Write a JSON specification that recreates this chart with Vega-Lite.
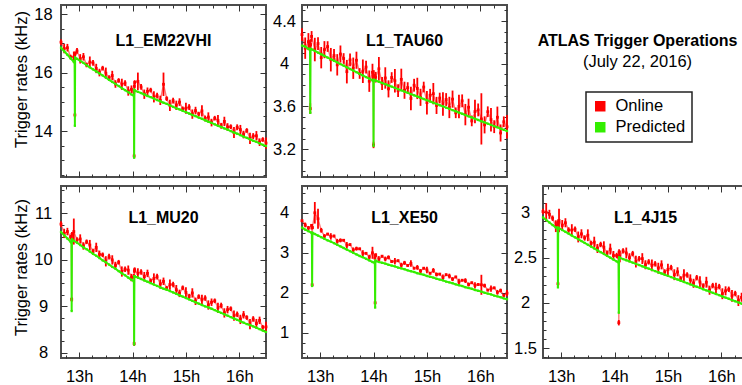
{
"$schema":"https://vega.github.io/schema/vega-lite/v6.json",
"padding":{"left":11,"top":3,"right":0,"bottom":0},
"background":"white",
"datasets":{"d":[
{"p":1,"t":12.66,"o":17.04,"e":0.1,"g":16.85},{"p":1,"t":12.72,"o":16.82,"e":0.16,"g":16.73},{"p":1,"t":12.78,"o":16.85,"e":0.13,"g":16.61},{"p":1,"t":12.84,"o":16.53,"e":0.08,"g":16.49},{"p":1,"t":12.9,"o":16.53,"e":0.19,"g":16.37},{"p":1,"t":12.915,"o":16.47,"e":0.08,"g":16.34},{"p":1,"t":12.92,"o":14.55,"e":0.08,"g":14.18},{"p":1,"t":12.925,"o":16.64,"e":0.08,"g":16.51},{"p":1,"t":12.96,"o":16.74,"e":0.1,"g":16.47},{"p":1,"t":13.02,"o":16.47,"e":0.16,"g":16.4},{"p":1,"t":13.08,"o":16.54,"e":0.13,"g":16.33},{"p":1,"t":13.14,"o":16.26,"e":0.08,"g":16.25},{"p":1,"t":13.2,"o":16.36,"e":0.19,"g":16.18},{"p":1,"t":13.26,"o":16.33,"e":0.1,"g":16.11},{"p":1,"t":13.32,"o":16.14,"e":0.16,"g":16.04},{"p":1,"t":13.38,"o":16.0,"e":0.13,"g":15.97},{"p":1,"t":13.44,"o":16.15,"e":0.08,"g":15.9},{"p":1,"t":13.5,"o":15.98,"e":0.19,"g":15.83},{"p":1,"t":13.56,"o":15.81,"e":0.1,"g":15.75},{"p":1,"t":13.62,"o":15.9,"e":0.16,"g":15.68},{"p":1,"t":13.68,"o":15.61,"e":0.13,"g":15.61},{"p":1,"t":13.74,"o":15.73,"e":0.08,"g":15.54},{"p":1,"t":13.8,"o":15.6,"e":0.19,"g":15.47},{"p":1,"t":13.86,"o":15.64,"e":0.1,"g":15.4},{"p":1,"t":13.92,"o":15.37,"e":0.16,"g":15.33},{"p":1,"t":13.98,"o":15.43,"e":0.13,"g":15.25},{"p":1,"t":14.025,"o":15.33,"e":0.08,"g":15.2},{"p":1,"t":14.03,"o":13.15,"e":0.08,"g":13.09},{"p":1,"t":14.035,"o":15.53,"e":0.08,"g":15.4},{"p":1,"t":14.04,"o":15.66,"e":0.08,"g":15.39},{"p":1,"t":14.1,"o":15.7,"e":0.3,"g":15.34},{"p":1,"t":14.16,"o":15.51,"e":0.1,"g":15.3},{"p":1,"t":14.22,"o":15.26,"e":0.16,"g":15.25},{"p":1,"t":14.28,"o":15.36,"e":0.13,"g":15.2},{"p":1,"t":14.34,"o":15.4,"e":0.08,"g":15.16},{"p":1,"t":14.4,"o":15.17,"e":0.19,"g":15.11},{"p":1,"t":14.46,"o":15.21,"e":0.1,"g":15.06},{"p":1,"t":14.52,"o":15.05,"e":0.16,"g":15.02},{"p":1,"t":14.58,"o":15.6,"e":0.4,"g":14.97},{"p":1,"t":14.64,"o":15.11,"e":0.08,"g":14.93},{"p":1,"t":14.7,"o":14.88,"e":0.19,"g":14.88},{"p":1,"t":14.76,"o":15.04,"e":0.1,"g":14.83},{"p":1,"t":14.82,"o":14.88,"e":0.16,"g":14.78},{"p":1,"t":14.88,"o":14.99,"e":0.13,"g":14.74},{"p":1,"t":14.94,"o":14.76,"e":0.08,"g":14.69},{"p":1,"t":15.0,"o":14.78,"e":0.19,"g":14.65},{"p":1,"t":15.06,"o":14.82,"e":0.1,"g":14.6},{"p":1,"t":15.12,"o":14.58,"e":0.16,"g":14.55},{"p":1,"t":15.18,"o":14.7,"e":0.13,"g":14.51},{"p":1,"t":15.24,"o":14.58,"e":0.08,"g":14.46},{"p":1,"t":15.3,"o":14.69,"e":0.19,"g":14.42},{"p":1,"t":15.36,"o":14.43,"e":0.1,"g":14.37},{"p":1,"t":15.42,"o":14.48,"e":0.16,"g":14.32},{"p":1,"t":15.48,"o":14.29,"e":0.13,"g":14.28},{"p":1,"t":15.54,"o":14.44,"e":0.08,"g":14.23},{"p":1,"t":15.6,"o":14.36,"e":0.19,"g":14.18},{"p":1,"t":15.66,"o":14.18,"e":0.1,"g":14.14},{"p":1,"t":15.72,"o":14.33,"e":0.16,"g":14.09},{"p":1,"t":15.78,"o":14.14,"e":0.13,"g":14.05},{"p":1,"t":15.84,"o":14.15,"e":0.08,"g":14.0},{"p":1,"t":15.9,"o":13.95,"e":0.19,"g":13.95},{"p":1,"t":15.96,"o":14.13,"e":0.1,"g":13.91},{"p":1,"t":16.02,"o":14.05,"e":0.16,"g":13.86},{"p":1,"t":16.08,"o":13.88,"e":0.13,"g":13.81},{"p":1,"t":16.14,"o":14.02,"e":0.08,"g":13.77},{"p":1,"t":16.2,"o":13.75,"e":0.19,"g":13.72},{"p":1,"t":16.26,"o":13.83,"e":0.1,"g":13.67},{"p":1,"t":16.32,"o":13.84,"e":0.16,"g":13.63},{"p":1,"t":16.38,"o":13.62,"e":0.13,"g":13.58},{"p":1,"t":16.44,"o":13.71,"e":0.08,"g":13.53},{"p":1,"t":16.5,"o":13.59,"e":0.19,"g":13.49},
{"p":2,"t":12.66,"o":4.273,"e":0.06,"g":4.17},{"p":2,"t":12.72,"o":4.146,"e":0.1,"g":4.16},{"p":2,"t":12.78,"o":4.207,"e":0.08,"g":4.14},{"p":2,"t":12.81,"o":4.17,"e":0.05,"g":4.13},{"p":2,"t":12.815,"o":3.58,"e":0.05,"g":3.54},{"p":2,"t":12.82,"o":4.18,"e":0.05,"g":4.14},{"p":2,"t":12.84,"o":4.256,"e":0.05,"g":4.135},{"p":2,"t":12.9,"o":4.133,"e":0.11,"g":4.12},{"p":2,"t":12.96,"o":4.189,"e":0.06,"g":4.104},{"p":2,"t":13.02,"o":4.057,"e":0.1,"g":4.089},{"p":2,"t":13.08,"o":4.132,"e":0.08,"g":4.074},{"p":2,"t":13.14,"o":4.161,"e":0.05,"g":4.058},{"p":2,"t":13.2,"o":4.038,"e":0.11,"g":4.043},{"p":2,"t":13.26,"o":4.077,"e":0.06,"g":4.028},{"p":2,"t":13.32,"o":3.99,"e":0.1,"g":4.013},{"p":2,"t":13.38,"o":4.091,"e":0.08,"g":3.997},{"p":2,"t":13.44,"o":4.049,"e":0.05,"g":3.982},{"p":2,"t":13.5,"o":3.926,"e":0.11,"g":3.967},{"p":2,"t":13.56,"o":4.036,"e":0.06,"g":3.951},{"p":2,"t":13.62,"o":3.958,"e":0.1,"g":3.936},{"p":2,"t":13.68,"o":4.033,"e":0.08,"g":3.921},{"p":2,"t":13.74,"o":3.909,"e":0.05,"g":3.905},{"p":2,"t":13.8,"o":3.93,"e":0.11,"g":3.89},{"p":2,"t":13.86,"o":3.969,"e":0.06,"g":3.875},{"p":2,"t":13.92,"o":3.837,"e":0.1,"g":3.86},{"p":2,"t":13.98,"o":3.92,"e":0.08,"g":3.844},{"p":2,"t":13.995,"o":3.88,"e":0.05,"g":3.84},{"p":2,"t":14.0,"o":3.24,"e":0.03,"g":3.23},{"p":2,"t":14.005,"o":3.89,"e":0.05,"g":3.85},{"p":2,"t":14.04,"o":3.874,"e":0.05,"g":3.843},{"p":2,"t":14.1,"o":3.953,"e":0.11,"g":3.832},{"p":2,"t":14.16,"o":3.815,"e":0.06,"g":3.82},{"p":2,"t":14.22,"o":3.867,"e":0.1,"g":3.809},{"p":2,"t":14.28,"o":3.765,"e":0.08,"g":3.797},{"p":2,"t":14.34,"o":3.871,"e":0.05,"g":3.786},{"p":2,"t":14.4,"o":3.841,"e":0.11,"g":3.774},{"p":2,"t":14.46,"o":3.748,"e":0.06,"g":3.762},{"p":2,"t":14.52,"o":3.854,"e":0.1,"g":3.751},{"p":2,"t":14.58,"o":3.752,"e":0.08,"g":3.739},{"p":2,"t":14.64,"o":3.777,"e":0.05,"g":3.728},{"p":2,"t":14.7,"o":3.675,"e":0.11,"g":3.716},{"p":2,"t":14.76,"o":3.799,"e":0.06,"g":3.705},{"p":2,"t":14.82,"o":3.769,"e":0.1,"g":3.693},{"p":2,"t":14.88,"o":3.686,"e":0.08,"g":3.682},{"p":2,"t":14.94,"o":3.782,"e":0.05,"g":3.67},{"p":2,"t":15.0,"o":3.636,"e":0.11,"g":3.659},{"p":2,"t":15.06,"o":3.705,"e":0.06,"g":3.647},{"p":2,"t":15.12,"o":3.72,"e":0.1,"g":3.635},{"p":2,"t":15.18,"o":3.61,"e":0.08,"g":3.624},{"p":2,"t":15.24,"o":3.679,"e":0.05,"g":3.612},{"p":2,"t":15.3,"o":3.623,"e":0.11,"g":3.601},{"p":2,"t":15.36,"o":3.665,"e":0.06,"g":3.589},{"p":2,"t":15.42,"o":3.591,"e":0.1,"g":3.578},{"p":2,"t":15.48,"o":3.669,"e":0.08,"g":3.566},{"p":2,"t":15.54,"o":3.541,"e":0.05,"g":3.555},{"p":2,"t":15.6,"o":3.601,"e":0.11,"g":3.543},{"p":2,"t":15.66,"o":3.653,"e":0.06,"g":3.532},{"p":2,"t":15.72,"o":3.524,"e":0.1,"g":3.52},{"p":2,"t":15.78,"o":3.593,"e":0.08,"g":3.508},{"p":2,"t":15.84,"o":3.465,"e":0.05,"g":3.497},{"p":2,"t":15.9,"o":3.552,"e":0.11,"g":3.485},{"p":2,"t":15.96,"o":3.568,"e":0.06,"g":3.474},{"p":2,"t":16.02,"o":3.484,"e":0.24,"g":3.462},{"p":2,"t":16.08,"o":3.428,"e":0.08,"g":3.451},{"p":2,"t":16.14,"o":3.551,"e":0.05,"g":3.439},{"p":2,"t":16.2,"o":3.477,"e":0.11,"g":3.428},{"p":2,"t":16.26,"o":3.411,"e":0.06,"g":3.416},{"p":2,"t":16.32,"o":3.499,"e":0.1,"g":3.405},{"p":2,"t":16.38,"o":3.352,"e":0.08,"g":3.393},{"p":2,"t":16.44,"o":3.457,"e":0.05,"g":3.381},{"p":2,"t":16.5,"o":3.41,"e":0.11,"g":3.37},
{"p":4,"t":12.66,"o":10.77,"e":0.06,"g":10.6},{"p":4,"t":12.72,"o":10.57,"e":0.1,"g":10.53},{"p":4,"t":12.78,"o":10.61,"e":0.08,"g":10.46},{"p":4,"t":12.84,"o":10.49,"e":0.05,"g":10.39},{"p":4,"t":12.855,"o":10.48,"e":0.05,"g":10.37},{"p":4,"t":12.86,"o":9.15,"e":0.05,"g":8.9},{"p":4,"t":12.865,"o":10.55,"e":0.05,"g":10.44},{"p":4,"t":12.9,"o":10.61,"e":0.28,"g":10.41},{"p":4,"t":12.96,"o":10.43,"e":0.06,"g":10.37},{"p":4,"t":13.02,"o":10.45,"e":0.1,"g":10.32},{"p":4,"t":13.08,"o":10.3,"e":0.08,"g":10.27},{"p":4,"t":13.14,"o":10.39,"e":0.05,"g":10.23},{"p":4,"t":13.2,"o":10.32,"e":0.11,"g":10.18},{"p":4,"t":13.26,"o":10.18,"e":0.06,"g":10.13},{"p":4,"t":13.32,"o":10.27,"e":0.1,"g":10.09},{"p":4,"t":13.38,"o":10.12,"e":0.08,"g":10.04},{"p":4,"t":13.44,"o":10.11,"e":0.05,"g":9.99},{"p":4,"t":13.5,"o":9.97,"e":0.11,"g":9.95},{"p":4,"t":13.56,"o":10.07,"e":0.06,"g":9.9},{"p":4,"t":13.62,"o":10.0,"e":0.1,"g":9.85},{"p":4,"t":13.68,"o":9.88,"e":0.08,"g":9.81},{"p":4,"t":13.74,"o":9.95,"e":0.05,"g":9.76},{"p":4,"t":13.8,"o":9.75,"e":0.11,"g":9.71},{"p":4,"t":13.86,"o":9.8,"e":0.06,"g":9.67},{"p":4,"t":13.92,"o":9.78,"e":0.1,"g":9.62},{"p":4,"t":13.98,"o":9.62,"e":0.08,"g":9.57},{"p":4,"t":14.025,"o":9.65,"e":0.05,"g":9.54},{"p":4,"t":14.03,"o":8.2,"e":0.05,"g":8.18},{"p":4,"t":14.035,"o":9.76,"e":0.05,"g":9.65},{"p":4,"t":14.04,"o":9.79,"e":0.05,"g":9.65},{"p":4,"t":14.1,"o":9.71,"e":0.11,"g":9.62},{"p":4,"t":14.16,"o":9.74,"e":0.06,"g":9.59},{"p":4,"t":14.22,"o":9.64,"e":0.1,"g":9.56},{"p":4,"t":14.28,"o":9.71,"e":0.08,"g":9.53},{"p":4,"t":14.34,"o":9.55,"e":0.05,"g":9.5},{"p":4,"t":14.4,"o":9.6,"e":0.11,"g":9.47},{"p":4,"t":14.46,"o":9.64,"e":0.06,"g":9.44},{"p":4,"t":14.52,"o":9.48,"e":0.1,"g":9.41},{"p":4,"t":14.58,"o":9.54,"e":0.08,"g":9.38},{"p":4,"t":14.64,"o":9.39,"e":0.05,"g":9.36},{"p":4,"t":14.7,"o":9.47,"e":0.11,"g":9.33},{"p":4,"t":14.76,"o":9.47,"e":0.06,"g":9.3},{"p":4,"t":14.82,"o":9.36,"e":0.1,"g":9.27},{"p":4,"t":14.88,"o":9.28,"e":0.08,"g":9.24},{"p":4,"t":14.94,"o":9.4,"e":0.05,"g":9.21},{"p":4,"t":15.0,"o":9.3,"e":0.11,"g":9.18},{"p":4,"t":15.06,"o":9.21,"e":0.06,"g":9.15},{"p":4,"t":15.12,"o":9.29,"e":0.1,"g":9.12},{"p":4,"t":15.18,"o":9.11,"e":0.08,"g":9.09},{"p":4,"t":15.24,"o":9.21,"e":0.05,"g":9.06},{"p":4,"t":15.3,"o":9.14,"e":0.11,"g":9.03},{"p":4,"t":15.36,"o":9.18,"e":0.06,"g":9.0},{"p":4,"t":15.42,"o":9.03,"e":0.1,"g":8.98},{"p":4,"t":15.48,"o":9.09,"e":0.08,"g":8.95},{"p":4,"t":15.54,"o":9.12,"e":0.05,"g":8.92},{"p":4,"t":15.6,"o":8.97,"e":0.11,"g":8.89},{"p":4,"t":15.66,"o":9.02,"e":0.06,"g":8.86},{"p":4,"t":15.72,"o":8.86,"e":0.1,"g":8.83},{"p":4,"t":15.78,"o":8.93,"e":0.08,"g":8.8},{"p":4,"t":15.84,"o":8.95,"e":0.05,"g":8.77},{"p":4,"t":15.9,"o":8.8,"e":0.11,"g":8.74},{"p":4,"t":15.96,"o":8.83,"e":0.06,"g":8.71},{"p":4,"t":16.02,"o":8.72,"e":0.1,"g":8.68},{"p":4,"t":16.08,"o":8.82,"e":0.08,"g":8.65},{"p":4,"t":16.14,"o":8.76,"e":0.05,"g":8.62},{"p":4,"t":16.2,"o":8.62,"e":0.11,"g":8.6},{"p":4,"t":16.26,"o":8.73,"e":0.06,"g":8.57},{"p":4,"t":16.32,"o":8.63,"e":0.1,"g":8.54},{"p":4,"t":16.38,"o":8.7,"e":0.08,"g":8.51},{"p":4,"t":16.44,"o":8.55,"e":0.05,"g":8.48},{"p":4,"t":16.5,"o":8.56,"e":0.11,"g":8.45},
{"p":5,"t":12.66,"o":3.802,"e":0.03,"g":3.63},{"p":5,"t":12.72,"o":3.696,"e":0.06,"g":3.58},{"p":5,"t":12.78,"o":3.621,"e":0.05,"g":3.54},{"p":5,"t":12.84,"o":3.686,"e":0.03,"g":3.5},{"p":5,"t":12.845,"o":3.62,"e":0.03,"g":3.49},{"p":5,"t":12.85,"o":2.2,"e":0.03,"g":2.17},{"p":5,"t":12.855,"o":3.63,"e":0.03,"g":3.5},{"p":5,"t":12.9,"o":4.0,"e":0.27,"g":3.47},{"p":5,"t":12.96,"o":3.85,"e":0.25,"g":3.43},{"p":5,"t":13.02,"o":3.562,"e":0.06,"g":3.39},{"p":5,"t":13.08,"o":3.417,"e":0.05,"g":3.35},{"p":5,"t":13.14,"o":3.468,"e":0.03,"g":3.31},{"p":5,"t":13.2,"o":3.41,"e":0.08,"g":3.28},{"p":5,"t":13.26,"o":3.419,"e":0.03,"g":3.24},{"p":5,"t":13.32,"o":3.288,"e":0.06,"g":3.2},{"p":5,"t":13.38,"o":3.311,"e":0.05,"g":3.16},{"p":5,"t":13.44,"o":3.313,"e":0.03,"g":3.12},{"p":5,"t":13.5,"o":3.189,"e":0.08,"g":3.08},{"p":5,"t":13.56,"o":3.205,"e":0.03,"g":3.04},{"p":5,"t":13.62,"o":3.074,"e":0.06,"g":3.0},{"p":5,"t":13.68,"o":3.104,"e":0.05,"g":2.96},{"p":5,"t":13.74,"o":3.099,"e":0.03,"g":2.92},{"p":5,"t":13.8,"o":2.985,"e":0.08,"g":2.89},{"p":5,"t":13.86,"o":2.987,"e":0.03,"g":2.85},{"p":5,"t":13.92,"o":2.891,"e":0.06,"g":2.81},{"p":5,"t":13.98,"o":3.0,"e":0.15,"g":2.77},{"p":5,"t":14.025,"o":2.87,"e":0.03,"g":2.74},{"p":5,"t":14.03,"o":1.75,"e":0.03,"g":1.63},{"p":5,"t":14.035,"o":2.93,"e":0.03,"g":2.8},{"p":5,"t":14.04,"o":2.951,"e":0.03,"g":2.8},{"p":5,"t":14.1,"o":2.837,"e":0.08,"g":2.77},{"p":5,"t":14.16,"o":2.915,"e":0.03,"g":2.75},{"p":5,"t":14.22,"o":2.846,"e":0.06,"g":2.73},{"p":5,"t":14.28,"o":2.886,"e":0.05,"g":2.7},{"p":5,"t":14.34,"o":2.782,"e":0.03,"g":2.68},{"p":5,"t":14.4,"o":2.79,"e":0.08,"g":2.66},{"p":5,"t":14.46,"o":2.802,"e":0.03,"g":2.63},{"p":5,"t":14.52,"o":2.691,"e":0.06,"g":2.61},{"p":5,"t":14.58,"o":2.748,"e":0.05,"g":2.59},{"p":5,"t":14.64,"o":2.683,"e":0.03,"g":2.56},{"p":5,"t":14.7,"o":2.733,"e":0.08,"g":2.54},{"p":5,"t":14.76,"o":2.615,"e":0.03,"g":2.52},{"p":5,"t":14.82,"o":2.634,"e":0.06,"g":2.49},{"p":5,"t":14.88,"o":2.544,"e":0.05,"g":2.47},{"p":5,"t":14.94,"o":2.615,"e":0.03,"g":2.45},{"p":5,"t":15.0,"o":2.571,"e":0.08,"g":2.42},{"p":5,"t":15.06,"o":2.488,"e":0.03,"g":2.4},{"p":5,"t":15.12,"o":2.559,"e":0.06,"g":2.38},{"p":5,"t":15.18,"o":2.459,"e":0.05,"g":2.35},{"p":5,"t":15.24,"o":2.467,"e":0.03,"g":2.33},{"p":5,"t":15.3,"o":2.377,"e":0.08,"g":2.31},{"p":5,"t":15.36,"o":2.452,"e":0.03,"g":2.28},{"p":5,"t":15.42,"o":2.418,"e":0.06,"g":2.26},{"p":5,"t":15.48,"o":2.342,"e":0.05,"g":2.24},{"p":5,"t":15.54,"o":2.396,"e":0.03,"g":2.21},{"p":5,"t":15.6,"o":2.271,"e":0.08,"g":2.19},{"p":5,"t":15.66,"o":2.314,"e":0.03,"g":2.17},{"p":5,"t":15.72,"o":2.305,"e":0.06,"g":2.14},{"p":5,"t":15.78,"o":2.208,"e":0.05,"g":2.12},{"p":5,"t":15.84,"o":2.251,"e":0.03,"g":2.1},{"p":5,"t":15.9,"o":2.186,"e":0.08,"g":2.07},{"p":5,"t":15.96,"o":2.208,"e":0.03,"g":2.05},{"p":5,"t":16.02,"o":2.2,"e":0.25,"g":2.03},{"p":5,"t":16.08,"o":2.179,"e":0.05,"g":2.0},{"p":5,"t":16.14,"o":2.068,"e":0.03,"g":1.98},{"p":5,"t":16.2,"o":2.104,"e":0.08,"g":1.96},{"p":5,"t":16.26,"o":2.123,"e":0.03,"g":1.93},{"p":5,"t":16.32,"o":2.012,"e":0.06,"g":1.91},{"p":5,"t":16.38,"o":2.055,"e":0.05,"g":1.89},{"p":5,"t":16.44,"o":1.934,"e":0.03,"g":1.86},{"p":5,"t":16.5,"o":1.991,"e":0.08,"g":1.84},
{"p":6,"t":12.66,"o":3.008,"e":0.03,"g":2.943},{"p":6,"t":12.72,"o":3.0,"e":0.1,"g":2.915},{"p":6,"t":12.78,"o":2.977,"e":0.05,"g":2.887},{"p":6,"t":12.84,"o":2.934,"e":0.03,"g":2.859},{"p":6,"t":12.9,"o":2.846,"e":0.065,"g":2.831},{"p":6,"t":12.935,"o":2.875,"e":0.03,"g":2.815},{"p":6,"t":12.94,"o":2.21,"e":0.03,"g":2.17},{"p":6,"t":12.945,"o":2.89,"e":0.03,"g":2.83},{"p":6,"t":12.96,"o":2.91,"e":0.13,"g":2.825},{"p":6,"t":13.02,"o":2.854,"e":0.06,"g":2.804},{"p":6,"t":13.08,"o":2.884,"e":0.05,"g":2.784},{"p":6,"t":13.14,"o":2.804,"e":0.03,"g":2.764},{"p":6,"t":13.2,"o":2.803,"e":0.065,"g":2.743},{"p":6,"t":13.26,"o":2.813,"e":0.03,"g":2.723},{"p":6,"t":13.32,"o":2.727,"e":0.06,"g":2.702},{"p":6,"t":13.38,"o":2.762,"e":0.05,"g":2.682},{"p":6,"t":13.44,"o":2.716,"e":0.03,"g":2.661},{"p":6,"t":13.5,"o":2.746,"e":0.065,"g":2.641},{"p":6,"t":13.56,"o":2.655,"e":0.03,"g":2.62},{"p":6,"t":13.62,"o":2.67,"e":0.06,"g":2.6},{"p":6,"t":13.68,"o":2.6,"e":0.05,"g":2.58},{"p":6,"t":13.74,"o":2.644,"e":0.03,"g":2.559},{"p":6,"t":13.8,"o":2.614,"e":0.065,"g":2.539},{"p":6,"t":13.86,"o":2.548,"e":0.03,"g":2.518},{"p":6,"t":13.92,"o":2.593,"e":0.06,"g":2.498},{"p":6,"t":13.98,"o":2.522,"e":0.05,"g":2.477},{"p":6,"t":14.04,"o":2.522,"e":0.03,"g":2.457},{"p":6,"t":14.075,"o":2.505,"e":0.03,"g":2.445},{"p":6,"t":14.08,"o":1.78,"e":0.03,"g":1.89},{"p":6,"t":14.085,"o":2.56,"e":0.03,"g":2.5},{"p":6,"t":14.1,"o":2.512,"e":0.065,"g":2.497},{"p":6,"t":14.16,"o":2.573,"e":0.03,"g":2.483},{"p":6,"t":14.22,"o":2.55,"e":0.06,"g":2.47},{"p":6,"t":14.28,"o":2.497,"e":0.05,"g":2.457},{"p":6,"t":14.34,"o":2.543,"e":0.03,"g":2.443},{"p":6,"t":14.4,"o":2.455,"e":0.065,"g":2.43},{"p":6,"t":14.46,"o":2.487,"e":0.03,"g":2.417},{"p":6,"t":14.52,"o":2.488,"e":0.06,"g":2.403},{"p":6,"t":14.58,"o":2.42,"e":0.05,"g":2.39},{"p":6,"t":14.64,"o":2.452,"e":0.03,"g":2.377},{"p":6,"t":14.7,"o":2.413,"e":0.065,"g":2.363},{"p":6,"t":14.76,"o":2.43,"e":0.03,"g":2.35},{"p":6,"t":14.82,"o":2.382,"e":0.06,"g":2.337},{"p":6,"t":14.88,"o":2.419,"e":0.05,"g":2.324},{"p":6,"t":14.94,"o":2.34,"e":0.03,"g":2.31},{"p":6,"t":15.0,"o":2.367,"e":0.065,"g":2.297},{"p":6,"t":15.06,"o":2.389,"e":0.03,"g":2.284},{"p":6,"t":15.12,"o":2.31,"e":0.06,"g":2.27},{"p":6,"t":15.18,"o":2.342,"e":0.05,"g":2.257},{"p":6,"t":15.24,"o":2.264,"e":0.03,"g":2.244},{"p":6,"t":15.3,"o":2.305,"e":0.065,"g":2.23},{"p":6,"t":15.36,"o":2.307,"e":0.03,"g":2.217},{"p":6,"t":15.42,"o":2.254,"e":0.06,"g":2.204},{"p":6,"t":15.48,"o":2.215,"e":0.05,"g":2.19},{"p":6,"t":15.54,"o":2.277,"e":0.03,"g":2.177},{"p":6,"t":15.6,"o":2.229,"e":0.065,"g":2.164},{"p":6,"t":15.66,"o":2.185,"e":0.03,"g":2.15},{"p":6,"t":15.72,"o":2.227,"e":0.06,"g":2.137},{"p":6,"t":15.78,"o":2.139,"e":0.05,"g":2.124},{"p":6,"t":15.84,"o":2.19,"e":0.03,"g":2.11},{"p":6,"t":15.9,"o":2.157,"e":0.065,"g":2.097},{"p":6,"t":15.96,"o":2.179,"e":0.03,"g":2.084},{"p":6,"t":16.02,"o":2.1,"e":0.06,"g":2.07},{"p":6,"t":16.08,"o":2.132,"e":0.05,"g":2.057},{"p":6,"t":16.14,"o":2.149,"e":0.03,"g":2.044},{"p":6,"t":16.2,"o":2.075,"e":0.065,"g":2.03},{"p":6,"t":16.26,"o":2.102,"e":0.03,"g":2.017},{"p":6,"t":16.32,"o":2.024,"e":0.06,"g":2.004},{"p":6,"t":16.38,"o":2.06,"e":0.05,"g":1.99},{"p":6,"t":16.44,"o":2.072,"e":0.03,"g":1.977},{"p":6,"t":16.5,"o":1.999,"e":0.065,"g":1.964}
]},
"bounds":"flush",
"columns":3,
"spacing":{"row":9,"column":36},
"concat":[
{"width":205,"height":172,"data":{"name":"d"},"transform":[{"filter":"datum.p==1"}],"title":{"text":"L1_EM22VHI","offset":-44},"resolve":{"axis":{"x":"independent","y":"independent"}},"layer":[
{"mark":{"type":"line","color":"#ff2020","strokeWidth":1.4,"opacity":0.6},"encoding":{"x":{"field":"t","type":"quantitative","scale":{"domain":[12.66,16.5],"nice":false,"zero":false},"axis":{"orient":"bottom","values":[13,14,15,16],"tickSize":6,"offset":-6,"labels":false,"title":null}},"y":{"field":"o","type":"quantitative","scale":{"domain":[12.43,18.31],"nice":false,"zero":false},"axis":{"orient":"left","values":[14,16,18],"tickSize":6,"offset":-6,"format":"~g","title":"Trigger rates (kHz)","titleX":-38,"titleY":74}}}},
{"mark":{"type":"errorbar","color":"#ff0000","thickness":1.8},"encoding":{"x":{"field":"t","type":"quantitative","axis":{"orient":"bottom","values":[12.75,13,13.25,13.5,13.75,14,14.25,14.5,14.75,15,15.25,15.5,15.75,16,16.25],"tickSize":3,"offset":-3,"labels":false,"title":null}},"y":{"field":"o","type":"quantitative","axis":{"orient":"left","values":[12.5,13,13.5,14,14.5,15,15.5,16,16.5,17,17.5,18],"tickSize":3,"offset":-3,"labels":false,"title":null}},"yError":{"field":"e"}}},
{"mark":{"type":"square","size":8,"opacity":1},"encoding":{"x":{"field":"t","type":"quantitative","axis":{"orient":"top","values":[13,14,15,16],"tickSize":6,"offset":-6,"labels":false,"title":null}},"y":{"field":"o","type":"quantitative","axis":{"orient":"right","values":[14,16,18],"tickSize":6,"offset":-6,"labels":false,"title":null}},"color":{"datum":"Online"}}},
{"mark":{"type":"line","color":"#33ee00","strokeWidth":2},"encoding":{"x":{"field":"t","type":"quantitative","axis":{"orient":"top","values":[12.75,13,13.25,13.5,13.75,14,14.25,14.5,14.75,15,15.25,15.5,15.75,16,16.25],"tickSize":3,"offset":-3,"labels":false,"title":null}},"y":{"field":"g","type":"quantitative","axis":{"orient":"right","values":[12.5,13,13.5,14,14.5,15,15.5,16,16.5,17,17.5,18],"tickSize":3,"offset":-3,"labels":false,"title":null}}}},
{"mark":{"type":"square","size":5,"opacity":1},"encoding":{"x":{"field":"t","type":"quantitative","axis":null},"y":{"field":"g","type":"quantitative","axis":null},"color":{"datum":"Predicted"}}}
]},
{"width":205,"height":172,"data":{"name":"d"},"transform":[{"filter":"datum.p==2"}],"title":{"text":"L1_TAU60","offset":-44},"resolve":{"axis":{"x":"independent","y":"independent"}},"layer":[
{"mark":{"type":"line","color":"#ff2020","strokeWidth":1.4,"opacity":0.6},"encoding":{"x":{"field":"t","type":"quantitative","scale":{"domain":[12.66,16.5],"nice":false,"zero":false},"axis":{"orient":"bottom","values":[13,14,15,16],"tickSize":6,"offset":-6,"labels":false,"title":null}},"y":{"field":"o","type":"quantitative","scale":{"domain":[2.94,4.55],"nice":false,"zero":false},"axis":{"orient":"left","values":[3.2,3.6,4,4.4],"tickSize":6,"offset":-6,"format":"~g","title":null}}}},
{"mark":{"type":"errorbar","color":"#ff0000","thickness":1.8},"encoding":{"x":{"field":"t","type":"quantitative","axis":{"orient":"bottom","values":[12.75,13,13.25,13.5,13.75,14,14.25,14.5,14.75,15,15.25,15.5,15.75,16,16.25],"tickSize":3,"offset":-3,"labels":false,"title":null}},"y":{"field":"o","type":"quantitative","axis":{"orient":"left","values":[3,3.1,3.2,3.3,3.4,3.5,3.6,3.7,3.8,3.9,4,4.1,4.2,4.3,4.4,4.5],"tickSize":3,"offset":-3,"labels":false,"title":null}},"yError":{"field":"e"}}},
{"mark":{"type":"square","size":8,"opacity":1},"encoding":{"x":{"field":"t","type":"quantitative","axis":{"orient":"top","values":[13,14,15,16],"tickSize":6,"offset":-6,"labels":false,"title":null}},"y":{"field":"o","type":"quantitative","axis":{"orient":"right","values":[3.2,3.6,4,4.4],"tickSize":6,"offset":-6,"labels":false,"title":null}},"color":{"datum":"Online"}}},
{"mark":{"type":"line","color":"#33ee00","strokeWidth":2},"encoding":{"x":{"field":"t","type":"quantitative","axis":{"orient":"top","values":[12.75,13,13.25,13.5,13.75,14,14.25,14.5,14.75,15,15.25,15.5,15.75,16,16.25],"tickSize":3,"offset":-3,"labels":false,"title":null}},"y":{"field":"g","type":"quantitative","axis":{"orient":"right","values":[3,3.1,3.2,3.3,3.4,3.5,3.6,3.7,3.8,3.9,4,4.1,4.2,4.3,4.4,4.5],"tickSize":3,"offset":-3,"labels":false,"title":null}}}},
{"mark":{"type":"square","size":5,"opacity":1},"encoding":{"x":{"field":"t","type":"quantitative","axis":null},"y":{"field":"g","type":"quantitative","axis":null},"color":{"datum":"Predicted"}}}
]},
{"width":205,"height":172,"data":{"values":[]},"mark":"point","view":{"stroke":null},"title":{"text":"ATLAS Trigger Operations","subtitle":"(July 22, 2016)","offset":-65,"dx":-8,"fontSize":16,"subtitleFont":"Liberation Sans","subtitleFontSize":16.5,"subtitleFontWeight":"normal","subtitleColor":"#000","subtitlePadding":5}},
{"width":205,"height":172,"data":{"name":"d"},"transform":[{"filter":"datum.p==4"}],"title":{"text":"L1_MU20","offset":-40},"resolve":{"axis":{"x":"independent","y":"independent"}},"layer":[
{"mark":{"type":"line","color":"#ff2020","strokeWidth":1.4,"opacity":0.6},"encoding":{"x":{"field":"t","type":"quantitative","scale":{"domain":[12.66,16.5],"nice":false,"zero":false},"axis":{"orient":"bottom","values":[13,14,15,16],"tickSize":6,"offset":-6,"labelExpr":"datum.value + 'h'","title":null}},"y":{"field":"o","type":"quantitative","scale":{"domain":[7.89,11.59],"nice":false,"zero":false},"axis":{"orient":"left","values":[8,9,10,11],"tickSize":6,"offset":-6,"format":"~g","title":"Trigger rates (kHz)","titleX":-38,"titleY":81}}}},
{"mark":{"type":"errorbar","color":"#ff0000","thickness":1.8},"encoding":{"x":{"field":"t","type":"quantitative","axis":{"orient":"bottom","values":[12.75,13,13.25,13.5,13.75,14,14.25,14.5,14.75,15,15.25,15.5,15.75,16,16.25],"tickSize":3,"offset":-3,"labels":false,"title":null}},"y":{"field":"o","type":"quantitative","axis":{"orient":"left","values":[8,8.25,8.5,8.75,9,9.25,9.5,9.75,10,10.25,10.5,10.75,11,11.25,11.5],"tickSize":3,"offset":-3,"labels":false,"title":null}},"yError":{"field":"e"}}},
{"mark":{"type":"square","size":8,"opacity":1},"encoding":{"x":{"field":"t","type":"quantitative","axis":{"orient":"top","values":[13,14,15,16],"tickSize":6,"offset":-6,"labels":false,"title":null}},"y":{"field":"o","type":"quantitative","axis":{"orient":"right","values":[8,9,10,11],"tickSize":6,"offset":-6,"labels":false,"title":null}},"color":{"datum":"Online"}}},
{"mark":{"type":"line","color":"#33ee00","strokeWidth":2},"encoding":{"x":{"field":"t","type":"quantitative","axis":{"orient":"top","values":[12.75,13,13.25,13.5,13.75,14,14.25,14.5,14.75,15,15.25,15.5,15.75,16,16.25],"tickSize":3,"offset":-3,"labels":false,"title":null}},"y":{"field":"g","type":"quantitative","axis":{"orient":"right","values":[8,8.25,8.5,8.75,9,9.25,9.5,9.75,10,10.25,10.5,10.75,11,11.25,11.5],"tickSize":3,"offset":-3,"labels":false,"title":null}}}},
{"mark":{"type":"square","size":5,"opacity":1},"encoding":{"x":{"field":"t","type":"quantitative","axis":null},"y":{"field":"g","type":"quantitative","axis":null},"color":{"datum":"Predicted"}}}
]},
{"width":205,"height":172,"data":{"name":"d"},"transform":[{"filter":"datum.p==5"}],"title":{"text":"L1_XE50","offset":-40},"resolve":{"axis":{"x":"independent","y":"independent"}},"layer":[
{"mark":{"type":"line","color":"#ff2020","strokeWidth":1.4,"opacity":0.6},"encoding":{"x":{"field":"t","type":"quantitative","scale":{"domain":[12.66,16.5],"nice":false,"zero":false},"axis":{"orient":"bottom","values":[13,14,15,16],"tickSize":6,"offset":-6,"labelExpr":"datum.value + 'h'","title":null}},"y":{"field":"o","type":"quantitative","scale":{"domain":[0.37,4.67],"nice":false,"zero":false},"axis":{"orient":"left","values":[1,2,3,4],"tickSize":6,"offset":-6,"format":"~g","title":null}}}},
{"mark":{"type":"errorbar","color":"#ff0000","thickness":1.8},"encoding":{"x":{"field":"t","type":"quantitative","axis":{"orient":"bottom","values":[12.75,13,13.25,13.5,13.75,14,14.25,14.5,14.75,15,15.25,15.5,15.75,16,16.25],"tickSize":3,"offset":-3,"labels":false,"title":null}},"y":{"field":"o","type":"quantitative","axis":{"orient":"left","values":[0.5,0.75,1,1.25,1.5,1.75,2,2.25,2.5,2.75,3,3.25,3.5,3.75,4,4.25,4.5],"tickSize":3,"offset":-3,"labels":false,"title":null}},"yError":{"field":"e"}}},
{"mark":{"type":"square","size":8,"opacity":1},"encoding":{"x":{"field":"t","type":"quantitative","axis":{"orient":"top","values":[13,14,15,16],"tickSize":6,"offset":-6,"labels":false,"title":null}},"y":{"field":"o","type":"quantitative","axis":{"orient":"right","values":[1,2,3,4],"tickSize":6,"offset":-6,"labels":false,"title":null}},"color":{"datum":"Online"}}},
{"mark":{"type":"line","color":"#33ee00","strokeWidth":2},"encoding":{"x":{"field":"t","type":"quantitative","axis":{"orient":"top","values":[12.75,13,13.25,13.5,13.75,14,14.25,14.5,14.75,15,15.25,15.5,15.75,16,16.25],"tickSize":3,"offset":-3,"labels":false,"title":null}},"y":{"field":"g","type":"quantitative","axis":{"orient":"right","values":[0.5,0.75,1,1.25,1.5,1.75,2,2.25,2.5,2.75,3,3.25,3.5,3.75,4,4.25,4.5],"tickSize":3,"offset":-3,"labels":false,"title":null}}}},
{"mark":{"type":"square","size":5,"opacity":1},"encoding":{"x":{"field":"t","type":"quantitative","axis":null},"y":{"field":"g","type":"quantitative","axis":null},"color":{"datum":"Predicted"}}}
]},
{"width":205,"height":172,"data":{"name":"d"},"transform":[{"filter":"datum.p==6"}],"title":{"text":"L1_4J15","offset":-40},"resolve":{"axis":{"x":"independent","y":"independent"}},"layer":[
{"mark":{"type":"line","color":"#ff2020","strokeWidth":1.4,"opacity":0.6},"encoding":{"x":{"field":"t","type":"quantitative","scale":{"domain":[12.66,16.5],"nice":false,"zero":false},"axis":{"orient":"bottom","values":[13,14,15,16],"tickSize":6,"offset":-6,"labelExpr":"datum.value + 'h'","title":null}},"y":{"field":"o","type":"quantitative","scale":{"domain":[1.39,3.29],"nice":false,"zero":false},"axis":{"orient":"left","values":[1.5,2,2.5,3],"tickSize":6,"offset":-6,"format":"~g","title":null}}}},
{"mark":{"type":"errorbar","color":"#ff0000","thickness":1.8},"encoding":{"x":{"field":"t","type":"quantitative","axis":{"orient":"bottom","values":[12.75,13,13.25,13.5,13.75,14,14.25,14.5,14.75,15,15.25,15.5,15.75,16,16.25],"tickSize":3,"offset":-3,"labels":false,"title":null}},"y":{"field":"o","type":"quantitative","axis":{"orient":"left","values":[1.4,1.5,1.6,1.7,1.8,1.9,2,2.1,2.2,2.3,2.4,2.5,2.6,2.7,2.8,2.9,3,3.1,3.2],"tickSize":3,"offset":-3,"labels":false,"title":null}},"yError":{"field":"e"}}},
{"mark":{"type":"square","size":8,"opacity":1},"encoding":{"x":{"field":"t","type":"quantitative","axis":{"orient":"top","values":[13,14,15,16],"tickSize":6,"offset":-6,"labels":false,"title":null}},"y":{"field":"o","type":"quantitative","axis":{"orient":"right","values":[1.5,2,2.5,3],"tickSize":6,"offset":-6,"labels":false,"title":null}},"color":{"datum":"Online"}}},
{"mark":{"type":"line","color":"#33ee00","strokeWidth":2},"encoding":{"x":{"field":"t","type":"quantitative","axis":{"orient":"top","values":[12.75,13,13.25,13.5,13.75,14,14.25,14.5,14.75,15,15.25,15.5,15.75,16,16.25],"tickSize":3,"offset":-3,"labels":false,"title":null}},"y":{"field":"g","type":"quantitative","axis":{"orient":"right","values":[1.4,1.5,1.6,1.7,1.8,1.9,2,2.1,2.2,2.3,2.4,2.5,2.6,2.7,2.8,2.9,3,3.1,3.2],"tickSize":3,"offset":-3,"labels":false,"title":null}}}},
{"mark":{"type":"square","size":5,"opacity":1},"encoding":{"x":{"field":"t","type":"quantitative","axis":null},"y":{"field":"g","type":"quantitative","axis":null},"color":{"datum":"Predicted"}}}
]}
],
"config":{
"font":"Liberation Sans",
"view":{"stroke":"#4d4d4d","strokeWidth":2},
"range":{"category":["#ff0000","#33ee00"]},
"axis":{"domain":false,"grid":false,"ticks":true,"tickColor":"#333","tickWidth":1,"labelFont":"Liberation Sans","labelFontSize":16.5,"labelColor":"#000","titleFont":"Liberation Sans","titleFontSize":16.5,"titleFontWeight":"normal","titleColor":"#000","labelFlush":false,"zindex":1},
"axisLeft":{"labelAlign":"center","labelBaseline":"middle","labelPadding":18},
"axisBottom":{"labelPadding":10,"labelBaseline":"top"},
"title":{"font":"Liberation Sans","fontSize":16,"fontWeight":"bold","color":"#000","anchor":"middle","frame":"group"},
"legend":{"orient":"none","legendX":525,"legendY":87,"title":null,"symbolType":"square","symbolSize":110,"symbolStrokeWidth":0,"labelFont":"Liberation Sans","labelFontSize":16.5,"labelColor":"#000","padding":6,"rowPadding":4,"labelOffset":7,"strokeColor":"#222","strokeWidth":1.5,"fillColor":"#fff"}
}
}
